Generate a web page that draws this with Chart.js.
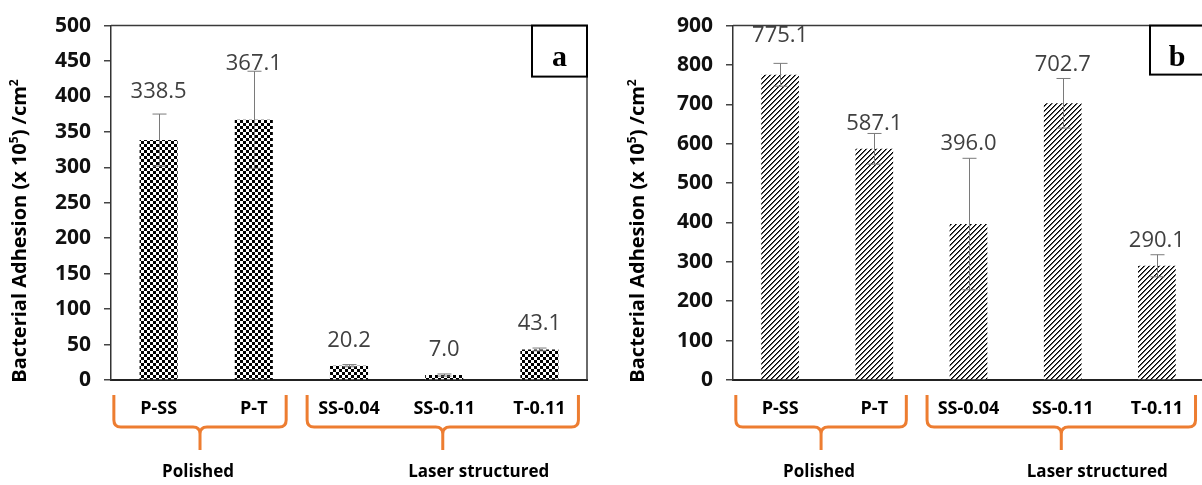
<!DOCTYPE html>
<html>
<head>
<meta charset="utf-8">
<script src="https://cdn.jsdelivr.net/npm/chart.js@4.4.1/dist/chart.umd.min.js"></script>
<style>
    html, body { margin: 0; padding: 0; background: #fff; width: 1202px; height: 485px; overflow: hidden; }
    #wrapA { position: absolute; left: 0; top: 0; }
    #wrapB { position: absolute; left: 600px; top: 0; }
</style>
</head>
<body>
<div id="wrapA"><canvas id="chartA" width="600" height="485"></canvas></div>
<div id="wrapB"><canvas id="chartB" width="620" height="485"></canvas></div>
<script>
// data
const categories = ['P-SS', 'P-T', 'SS-0.04', 'SS-0.11', 'T-0.11'];
const groupNames = ['Polished', 'Laser structured'];
const groupFirst = [0, 2];
const groupLast = [1, 4];

const valuesA = [338.5, 367.1, 20.2, 7.0, 43.1];
const errorsA = [36.7, 68.5, 1.5, 1.5, 2.0];
const valuesB = [775.1, 587.1, 396.0, 702.7, 290.1];
const errorsB = [29, 39, 167, 63, 28];

const yMaxA = 500, yStepA = 50;
const yMaxB = 900, yStepB = 100;

const axisTitle = [['Bacterial Adhesion (x 10', false], ['5', true], [') /cm', false], ['2', true]];

// fill patterns
function checkerPattern() {
    const c = document.createElement('canvas');
    c.width = 6; c.height = 6;
    const g = c.getContext('2d');
    g.fillStyle = '#fff'; g.fillRect(0, 0, 6, 6);
    g.fillStyle = '#000';
    g.fillRect(0, 0, 3, 3);
    g.fillRect(3, 3, 3, 3);
    return g.createPattern(c, 'repeat');
}

function hatchPattern() {
    const c = document.createElement('canvas');
    c.width = 5; c.height = 5;
    const g = c.getContext('2d');
    g.fillStyle = '#fff'; g.fillRect(0, 0, 5, 5);
    for (let i = 0; i < 5; i++) {
        g.fillStyle = '#000';
        g.fillRect(i, 4 - i, 1, 1);
        g.fillStyle = '#5a5a5a';
        g.fillRect((i + 1) % 5, 4 - i, 1, 1);
    }
    return g.createPattern(c, 'repeat');
}

const extrasPlugin = {
    id: 'extras',
    afterDraw(chart) {
        const o = chart.options.plugins.extras;
        const ctx = chart.ctx;
        const ca = chart.chartArea;
        const xs = chart.scales.x, ys = chart.scales.y;
        const vals = chart.data.datasets[0].data;
        const bars = chart.getDatasetMeta(0).data;

        // plot frame (top + right)
        ctx.save();
        ctx.strokeStyle = '#3a3a3a';
        ctx.lineWidth = 1.5;
        ctx.beginPath();
        ctx.moveTo(ca.left, ca.top);
        ctx.lineTo(ca.right, ca.top);
        ctx.lineTo(ca.right, ca.bottom);
        ctx.stroke();

        // error bars + value labels
        bars.forEach((bar, i) => {
            const v = vals[i], e = o.errors[i];
            const px = Math.round(bar.x) + 0.5;
            const yt = ys.getPixelForValue(v + e);
            const yb = ys.getPixelForValue(v - e);
            ctx.strokeStyle = '#7a7a7a';
            ctx.lineWidth = 1;
            ctx.beginPath();
            ctx.moveTo(px, yt); ctx.lineTo(px, yb);
            ctx.moveTo(px - 7, yt); ctx.lineTo(px + 7, yt);
            ctx.moveTo(px - 7, yb); ctx.lineTo(px + 7, yb);
            ctx.stroke();

            ctx.fillStyle = '#404040';
            ctx.font = '22px "Open Sans"';
            ctx.textAlign = 'center';
            ctx.textBaseline = 'middle';
            ctx.fillText(v.toFixed(1), bar.x, yt - o.lift[i]);
        });

        // letter box
        ctx.fillStyle = '#fff';
        ctx.fillRect(ca.right - o.boxW, ca.top, o.boxW, o.boxH);
        ctx.strokeStyle = '#000';
        ctx.lineWidth = 2;
        ctx.strokeRect(ca.right - o.boxW, ca.top, o.boxW, o.boxH);
        ctx.fillStyle = '#000';
        ctx.font = 'bold 30px "Liberation Serif"';
        ctx.textAlign = 'center';
        ctx.textBaseline = 'alphabetic';
        ctx.fillText(o.letter, ca.right - o.boxW / 2, ca.top + 40);

        // y axis title with superscripts
        ctx.save();
        ctx.translate(o.titleX, 231);
        ctx.rotate(-Math.PI / 2);
        const mainFont = 'bold 20px "Open Sans"', supFont = 'bold 12px "Open Sans"';
        let total = 0;
        axisTitle.forEach(([t, sup]) => { ctx.font = sup ? supFont : mainFont; total += ctx.measureText(t).width; });
        let tx = -total / 2;
        ctx.textAlign = 'left';
        ctx.fillStyle = '#000';
        axisTitle.forEach(([t, sup]) => {
            ctx.font = sup ? supFont : mainFont;
            ctx.fillText(t, tx, sup ? -8 : 0);
            tx += ctx.measureText(t).width;
        });
        ctx.restore();

        // group braces
        const w = xs.getPixelForValue(1) - xs.getPixelForValue(0);
        const top = 395, mid = 427, bot = 450, r = 7;
        ctx.strokeStyle = '#ED7D31';
        ctx.lineWidth = 3;
        ctx.lineJoin = 'round';
        groupNames.forEach((name, g) => {
            const l = xs.getPixelForValue(groupFirst[g]) - o.padL[g] * w;
            const rt = xs.getPixelForValue(groupLast[g]) + o.padR[g] * w;
            const tip = (l + rt) / 2;
            ctx.beginPath();
            ctx.moveTo(l, top);
            ctx.lineTo(l, mid - r);
            ctx.quadraticCurveTo(l, mid, l + r, mid);
            ctx.lineTo(tip - r, mid);
            ctx.quadraticCurveTo(tip, mid, tip, mid + r);
            ctx.lineTo(tip, bot);
            ctx.moveTo(rt, top);
            ctx.lineTo(rt, mid - r);
            ctx.quadraticCurveTo(rt, mid, rt - r, mid);
            ctx.lineTo(tip + r, mid);
            ctx.quadraticCurveTo(tip, mid, tip, mid + r);
            ctx.stroke();

            ctx.fillStyle = '#000';
            ctx.font = 'bold 17px "Open Sans"';
            ctx.textAlign = 'center';
            ctx.textBaseline = 'middle';
            ctx.fillText(name, tip + o.nameShift[g], 472);
        });
        ctx.restore();
    }
};

function makeChart(id, values, errors, cfg) {
    return new Chart(document.getElementById(id), {
        type: 'bar',
        data: {
            labels: categories,
            datasets: [{
                data: values,
                backgroundColor: cfg.fill,
                borderWidth: 0,
                barPercentage: 0.4,
                categoryPercentage: 1.0
            }]
        },
        options: {
            responsive: false,
            animation: false,
            devicePixelRatio: 1,
            layout: { padding: { top: 23, right: cfg.padRight, left: 0, bottom: 0 } },
            scales: {
                x: {
                    grid: { display: false, drawTicks: false },
                    border: { display: true, color: '#222', width: 2 },
                    ticks: {
                        color: '#000',
                        font: { family: 'Open Sans', weight: 'bold', size: 18 },
                        padding: 18,
                        maxRotation: 0,
                        autoSkip: false
                    },
                    afterFit: s => { s.height = 105; }
                },
                y: {
                    min: 0,
                    max: cfg.max,
                    ticks: {
                        stepSize: cfg.step,
                        color: '#111',
                        font: { family: 'Open Sans', weight: 'bold', size: 21 },
                        padding: 13
                    },
                    grid: { drawOnChartArea: false, drawTicks: true, tickLength: 7, color: '#444', lineWidth: 1.5 },
                    border: { display: true, color: '#333', width: 1.5 },
                    afterFit: s => { s.width = cfg.yWidth; }
                }
            },
            plugins: {
                legend: { display: false },
                tooltip: { enabled: false },
                extras: {
                    errors: errors,
                    lift: cfg.lift,
                    letter: cfg.letter,
                    boxW: cfg.boxW,
                    boxH: cfg.boxH,
                    titleX: cfg.titleX,
                    padL: [0.47, 0.44],
                    padR: [0.34, 0.41],
                    nameShift: [-2, 36]
                }
            }
        },
        plugins: [extrasPlugin]
    });
}

makeChart('chartA', valuesA, errorsA, {
    fill: checkerPattern(), max: yMaxA, step: yStepA, yWidth: 111, padRight: 13,
    lift: [22, 8, 24, 24, 24], letter: 'a', boxW: 55, boxH: 51, titleX: 26
});

makeChart('chartB', valuesB, errorsB, {
    fill: hatchPattern(), max: yMaxB, step: yStepB, yWidth: 133, padRight: 16,
    lift: [28, 10, 15, 14, 14], letter: 'b', boxW: 54, boxH: 49, titleX: 44
});
</script>
</body>
</html>
